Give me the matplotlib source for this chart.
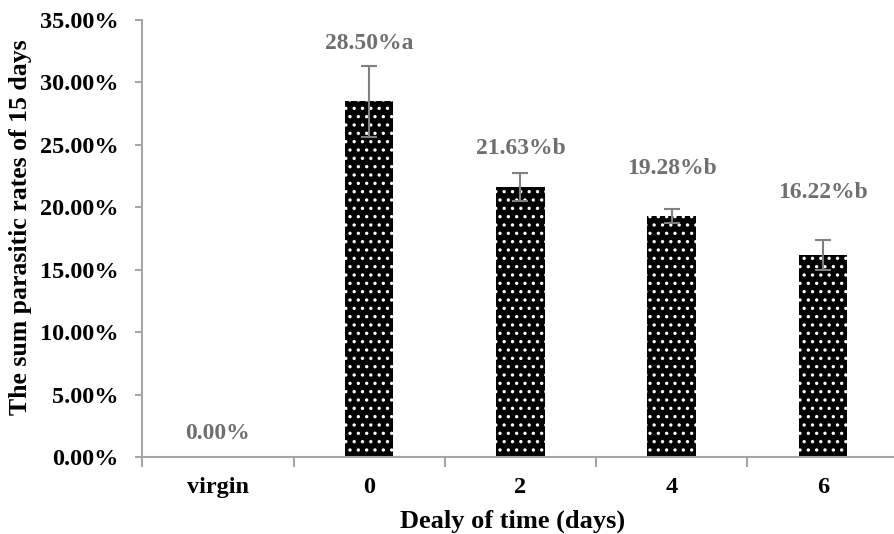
import matplotlib.pyplot as plt
from matplotlib.ticker import FuncFormatter

groups = ['virgin', '0', '2', '4', '6']
rates = [0.00, 28.50, 21.63, 19.28, 16.22]
errors = [0.0, 2.85, 1.15, 0.56, 1.20]
letters = ['', 'a', 'b', 'b', 'b']
# where each value label sits (in %), set by hand above the error bars
label_y = [1.9, 33.1, 24.7, 23.1, 21.2]

plt.rcParams['font.family'] = ['Liberation Serif', 'DejaVu Serif']
plt.rcParams['font.weight'] = 'bold'
plt.rcParams['hatch.color'] = 'white'
plt.rcParams['hatch.linewidth'] = 1.2

grey = '#a6a6a6'
label_grey = '#6f6f6f'

fig = plt.figure(figsize=(8.95, 5.34), dpi=100)
ax = fig.add_axes([0.159, 0.144, 0.845, 0.8185])

x = list(range(len(groups)))
ax.bar(x, rates, width=0.32, color='black', hatch='..', linewidth=0)
ax.errorbar(x[1:], rates[1:], yerr=errors[1:], fmt='none', ecolor='#808080',
            elinewidth=1.5, capsize=5.5, capthick=1.5)

for xi, v, lt, ly in zip(x, rates, letters, label_y):
    ax.text(xi, ly, f'{v:.2f}%{lt}', ha='center', va='center',
            fontsize=17, fontweight='bold', color=label_grey)

ax.set_xlim(-0.5, 4.5)
ax.set_ylim(0, 35)
ax.set_yticks([0, 5, 10, 15, 20, 25, 30, 35])
ax.yaxis.set_major_formatter(FuncFormatter(lambda v, p: f'{v:.2f}%'))
ax.set_xticks(x)
ax.set_xticklabels(groups)
ax.set_xticks([i - 0.5 for i in range(len(groups) + 1)], minor=True)

ax.tick_params(axis='y', labelsize=17.5, colors=grey, labelcolor='black',
               length=5, width=1.5, pad=12)
ax.tick_params(axis='x', which='major', length=0, labelsize=17.5, pad=14)
ax.tick_params(axis='x', which='minor', length=7, width=1.5, color=grey)

for side in ['top', 'right']:
    ax.spines[side].set_visible(False)
for side in ['left', 'bottom']:
    ax.spines[side].set_color(grey)
    ax.spines[side].set_linewidth(1.5)

ax.set_ylabel('The sum parasitic rates of 15 days', fontsize=18.5,
              fontweight='bold', labelpad=6)
ax.yaxis.label.set_y(0.525)
ax.set_xlabel('Dealy of time (days)', fontsize=19, fontweight='bold',
              labelpad=9)
ax.xaxis.label.set_x(0.49)

fig.savefig('out.png', dpi=100)
